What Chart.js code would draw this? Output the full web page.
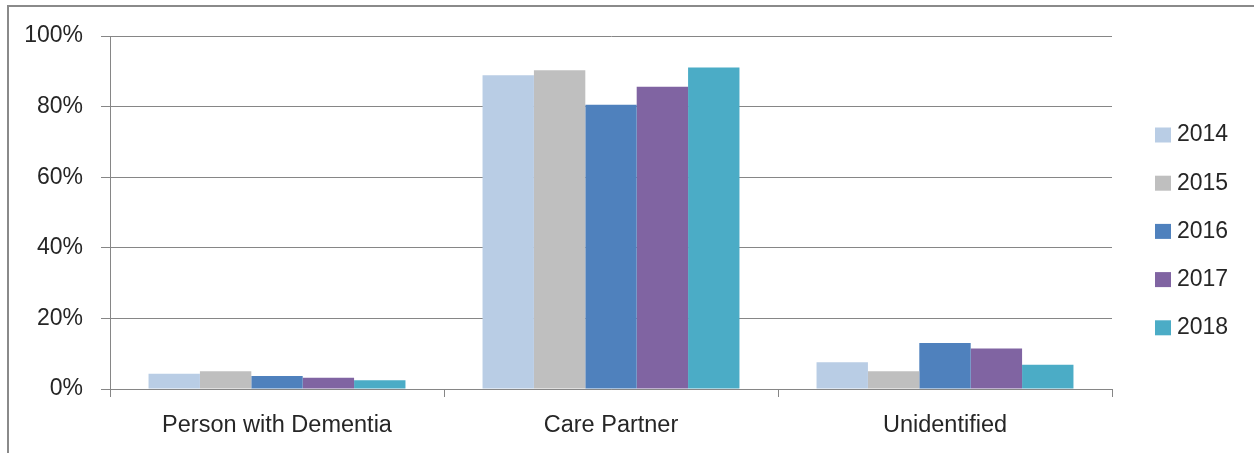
<!DOCTYPE html>
<html>
<head>
<meta charset="utf-8">
<script src="https://cdn.jsdelivr.net/npm/chart.js@4"></script>
<style>
  html, body { margin: 0; padding: 0; background: #fff; }
  #wrap { position: relative; width: 1254px; height: 453px; overflow: hidden; }
  #frame { position: absolute; left: 7px; top: 5px; right: -10px; bottom: -10px;
           border-top: 2px solid #8a8a8a; border-left: 2px solid #8a8a8a; }
  #c { position: absolute; left: 0; top: 0; }
</style>
</head>
<body>
<div id="wrap">
  <div id="frame"></div>
  <canvas id="c" width="1254" height="453"></canvas>
</div>
<script>
// Share of respondents by role, per survey year (percent)
const categories = ['Person with Dementia', 'Care Partner', 'Unidentified'];
const years = ['2014', '2015', '2016', '2017', '2018'];
const values2014 = [4.3, 88.9, 7.6];
const values2015 = [5.0, 90.3, 5.0];
const values2016 = [3.7, 80.5, 13.0];
const values2017 = [3.2, 85.6, 11.5];
const values2018 = [2.5, 91.1, 6.9];
const yTicks = [0, 20, 40, 60, 80, 100];

const seriesValues = [values2014, values2015, values2016, values2017, values2018];
const seriesColors = ['#b9cde5', '#bfbfbf', '#4f81bd', '#8064a2', '#4bacc6'];

const FONT = "'Liberation Sans', Arial, sans-serif";
const TEXT = '#262626';
const LINE = '#868686';

// Legend drawn as a plain column to the right of the plot
const sideLegend = {
  id: 'sideLegend',
  afterDraw(chart) {
    const ctx = chart.ctx;
    ctx.save();
    ctx.font = '23px ' + FONT;
    ctx.textBaseline = 'middle';
    ctx.textAlign = 'left';
    chart.data.datasets.forEach((ds, i) => {
      const cy = 135 + i * 48.2;
      ctx.fillStyle = ds.backgroundColor;
      ctx.fillRect(1155, cy - 7.5, 16, 15);
      ctx.fillStyle = TEXT;
      ctx.fillText(ds.label, 1177, cy);
    });
    ctx.restore();
  }
};

new Chart(document.getElementById('c'), {
  type: 'bar',
  data: {
    labels: categories,
    datasets: years.map((y, i) => ({
      label: y,
      data: seriesValues[i],
      backgroundColor: seriesColors[i],
      borderWidth: 0,
      barPercentage: 1,
      categoryPercentage: 5 / 6.5
    }))
  },
  options: {
    responsive: false,
    animation: false,
    devicePixelRatio: 1,
    layout: { padding: { top: 36, right: 142, bottom: 0, left: 0 } },
    plugins: { legend: { display: false }, tooltip: { enabled: false } },
    scales: {
      x: {
        afterFit(scale) { scale.height = 64; },
        grid: { display: true, offset: true, drawOnChartArea: false, tickLength: 8, color: LINE },
        border: { display: true, color: LINE, width: 1 },
        ticks: { color: TEXT, font: { family: FONT, size: 23.5 }, padding: 14, maxRotation: 0, autoSkip: false }
      },
      y: {
        min: 0,
        max: 100,
        afterFit(scale) { scale.width = 110; },
        afterBuildTicks(scale) { scale.ticks = yTicks.map(v => ({ value: v })); },
        grid: { color: LINE, tickLength: 9, lineWidth: 1 },
        border: { display: true, color: LINE, width: 1 },
        ticks: { color: TEXT, font: { family: FONT, size: 23 }, padding: 18,
                 callback: v => v + '%' }
      }
    }
  },
  plugins: [sideLegend]
});
</script>
</body>
</html>
